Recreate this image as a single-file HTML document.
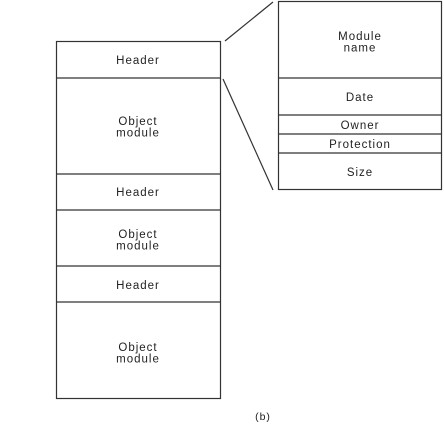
<!DOCTYPE html>
<html><head><style>
body{margin:0;background:#fff}
svg text{font-family:"Liberation Sans",Arial,sans-serif;font-size:11.5px;letter-spacing:1px;fill:#222;text-anchor:middle}
svg line,svg rect{stroke:#333;stroke-width:1.2px;fill:none}
</style></head><body>
<svg width="444" height="425" xmlns="http://www.w3.org/2000/svg">
<rect x="56.5" y="41.5" width="164" height="357"/>
<line x1="56" y1="78" x2="221" y2="78"/>
<line x1="56" y1="174" x2="221" y2="174"/>
<line x1="56" y1="210" x2="221" y2="210"/>
<line x1="56" y1="266" x2="221" y2="266"/>
<line x1="56" y1="302" x2="221" y2="302"/>
<rect x="278.5" y="1.5" width="163" height="188"/>
<line x1="278" y1="78" x2="442" y2="78"/>
<line x1="278" y1="115" x2="442" y2="115"/>
<line x1="278" y1="134" x2="442" y2="134"/>
<line x1="278" y1="153" x2="442" y2="153"/>
<line x1="225" y1="41" x2="273" y2="2"/>
<line x1="223" y1="79" x2="273" y2="190"/>
<text x="138" y="64">Header</text>
<text x="138" y="125">Object</text><text x="138" y="136.5">module</text>
<text x="138" y="196">Header</text>
<text x="138" y="238">Object</text><text x="138" y="249.5">module</text>
<text x="138" y="289">Header</text>
<text x="138" y="351">Object</text><text x="138" y="362.5">module</text>
<text x="360" y="40">Module</text><text x="360" y="51.5">name</text>
<text x="360" y="101">Date</text>
<text x="360" y="129">Owner</text>
<text x="360" y="148">Protection</text>
<text x="360" y="176">Size</text>
<text x="263" y="420" style="font-size:10.5px">(b)</text>
</svg>
</body></html>
